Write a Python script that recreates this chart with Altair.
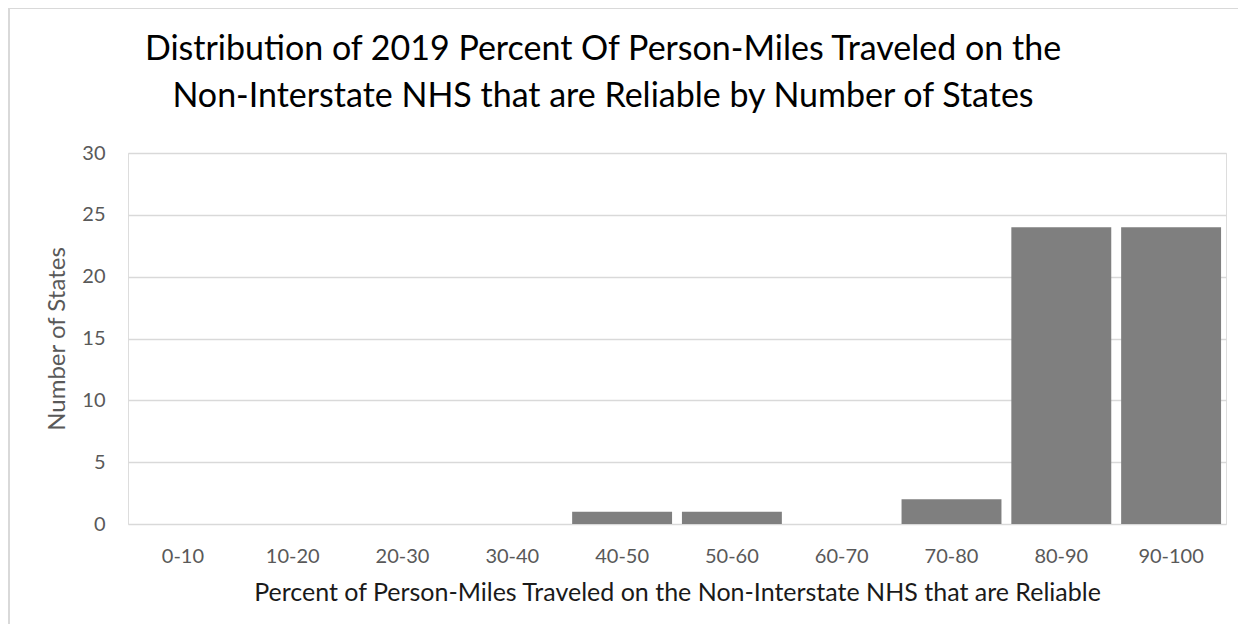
import altair as alt
import pandas as pd

categories = ["0-10", "10-20", "20-30", "30-40", "40-50", "50-60", "60-70", "70-80", "80-90", "90-100"]
counts = [0, 0, 0, 0, 1, 1, 0, 2, 24, 24]
title_lines = ["Distribution of 2019 Percent Of Person-Miles Traveled on the",
               "Non-Interstate NHS that are Reliable by Number of States"]
x_title = "Percent of Person-Miles Traveled on the Non-Interstate NHS that are Reliable"
y_title = "Number of States"

df = pd.DataFrame({"range": categories, "states": counts})
one = pd.DataFrame({"k": [0]})

FONT = "Lato"

bars = alt.Chart(df).mark_bar(color="#7f7f7f").encode(
    x=alt.X("range:N", sort=categories,
            scale=alt.Scale(paddingInner=0.09, paddingOuter=0.045),
            axis=alt.Axis(title=x_title, grid=False,
                          labelAngle=0, labelFontSize=20, labelColor="#595959", labelFont=FONT,
                          labelPadding=22, ticks=False, domain=False,
                          titleFontSize=25, titleColor="#1a1a1a", titleFont=FONT,
                          titleFontWeight="normal", titlePadding=14)),
    y=alt.Y("states:Q", scale=alt.Scale(domain=[0, 30]),
            axis=alt.Axis(title=y_title, values=[0, 5, 10, 15, 20, 25, 30],
                          labelFontSize=20, labelColor="#595959", labelFont=FONT,
                          labelPadding=23, ticks=False, domain=False,
                          gridColor="#d9d9d9", gridWidth=1.3,
                          titleFontSize=24, titleColor="#595959", titleFont=FONT,
                          titleFontWeight="normal", titlePadding=12)),
)

title = alt.Chart(one).mark_text(
    text=title_lines, font=FONT, fontSize=34, color="#000000",
    align="center", baseline="alphabetic", lineHeight=47
).encode(x=alt.value(475), y=alt.value(-93))

frame_top = alt.Chart(one).mark_rule(color="#d9d9d9", strokeWidth=2).encode(
    x=alt.value(-119), x2=alt.value(1110), y=alt.value(-145)
)
frame_left = alt.Chart(one).mark_rule(color="#d9d9d9", strokeWidth=2).encode(
    x=alt.value(-119), y=alt.value(-145), y2=alt.value(471)
)

chart = alt.layer(bars, title, frame_top, frame_left).properties(
    width=1098, height=371,
    autosize=alt.AutoSizeParams(type="none"),
    padding={"left": 120, "top": 145, "right": 12, "bottom": 100},
).configure_view(strokeWidth=0, stroke="transparent").configure(background="white")

chart.save("out.html", embed_options={"renderer": "svg", "actions": False})
